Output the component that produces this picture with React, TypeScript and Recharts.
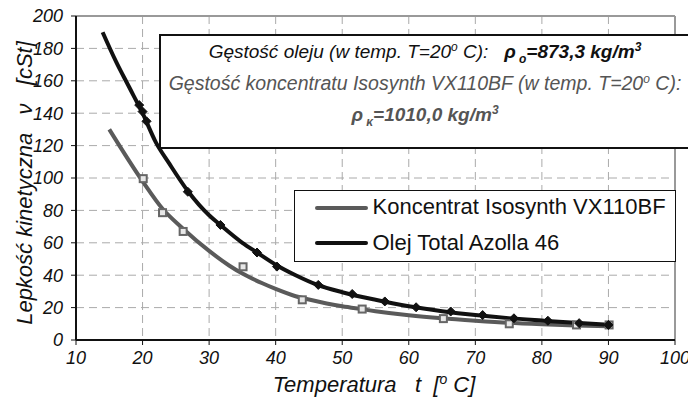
import React from 'react';
import { ComposedChart, Line, Scatter, XAxis, YAxis, CartesianGrid, ReferenceLine } from 'recharts';

// Temperature ticks and viscosity ticks
const xTicks = [10, 20, 30, 40, 50, 60, 70, 80, 90, 100];
const yTicks = [0, 20, 40, 60, 80, 100, 120, 140, 160, 180, 200];

// Olej Total Azolla 46 – fitted curve
const oilCurveT = [14, 16, 18, 20, 22, 24, 26.8, 30, 31.7, 35, 37.2, 40, 43, 46.3, 50, 55, 60, 65, 70, 75, 80, 85, 90];
const oilCurveV = [190, 172, 156, 140, 122, 109, 92, 77, 71, 60, 54, 46.5, 40, 34, 29.5, 24.8, 20.8, 17.8, 15.4, 13.5, 12, 10.6, 9.4];
// Olej Total Azolla 46 – measured points
const oilPointsT = [19.5, 20, 20.6, 26.8, 31.7, 37.2, 40.2, 46.4, 51.5, 56.4, 61.1, 66.3, 71.1, 75.8, 80.9, 85.6, 90];
const oilPointsV = [145, 141, 135, 91.5, 71, 54, 45.3, 34, 28.4, 23.8, 20.2, 17.6, 15.4, 13.4, 11.9, 10.4, 9.3];

// Koncentrat Isosynth VX110BF – fitted curve
const concCurveT = [15, 20, 23, 26, 30, 33, 35, 38, 40, 43, 45, 50, 53, 55, 60, 65, 70, 75, 80, 85, 90];
const concCurveV = [130, 98, 81, 69, 55, 46, 41, 35, 31.5, 27, 25, 20.8, 19, 17.8, 15.3, 13.4, 11.9, 10.6, 9.7, 9.0, 8.5];
// Koncentrat Isosynth VX110BF – measured points
const concPointsT = [20.1, 23, 26.1, 35.1, 44, 53, 65.2, 75.1, 85.2, 90.1];
const concPointsV = [99.6, 78.6, 67, 45.2, 24.8, 19.1, 13.2, 10, 9.3, 9.3];

const toRows = (xs: number[], ys: number[]) => xs.map((x, i) => ({ x, y: ys[i] }));

const oilCurve = toRows(oilCurveT, oilCurveV);
const oilPoints = toRows(oilPointsT, oilPointsV);
const concCurve = toRows(concCurveT, concCurveV);
const concPoints = toRows(concPointsT, concPointsV);

const FONT = '"Liberation Sans", Arial, sans-serif';

const Diamond = (p: any) => {
  const { cx, cy } = p;
  if (cx == null || cy == null) return null;
  const r = 4.5;
  return <polygon points={`${cx},${cy - r} ${cx + r},${cy} ${cx},${cy + r} ${cx - r},${cy}`} fill="#111" stroke="#111" strokeWidth={1} />;
};

const Square = (p: any) => {
  const { cx, cy } = p;
  if (cx == null || cy == null) return null;
  const s = 7;
  return <rect x={cx - s / 2} y={cy - s / 2} width={s} height={s} fill="#e8e8e8" stroke="#666" strokeWidth={2} />;
};

const supS = { fontSize: 12, verticalAlign: 'super', lineHeight: 0 } as React.CSSProperties;
const subS = { fontSize: 12, verticalAlign: 'sub', lineHeight: 0 } as React.CSSProperties;

export default function App() {
  return (
    <div style={{ position: 'absolute', left: 0, top: 0, width: 688, height: 408, overflow: 'hidden', background: '#fff', fontFamily: FONT }}>
      <ComposedChart width={688} height={408} margin={{ top: 16, right: 13, bottom: 0, left: 0 }}>
        <CartesianGrid strokeDasharray="8 5" stroke="#aaa" strokeWidth={1} />
        <XAxis
          type="number"
          dataKey="x"
          domain={[10, 100]}
          ticks={xTicks}
          height={68}
          tickSize={5}
          tickMargin={6}
          axisLine={{ stroke: '#111', strokeWidth: 2 }}
          tickLine={{ stroke: '#111', strokeWidth: 1 }}
          tick={{ fill: '#111', fontSize: 18, fontStyle: 'italic', fontFamily: FONT }}
          interval={0}
          allowDataOverflow
        />
        <YAxis
          type="number"
          dataKey="y"
          domain={[0, 200]}
          ticks={yTicks}
          width={76}
          tickSize={5}
          tickMargin={8}
          axisLine={{ stroke: '#111', strokeWidth: 2 }}
          tickLine={{ stroke: '#111', strokeWidth: 1 }}
          tick={{ fill: '#111', fontSize: 18, fontStyle: 'italic', fontFamily: FONT }}
          interval={0}
          allowDataOverflow
        />
        <ReferenceLine y={200} stroke="#999" strokeWidth={2} />
        <ReferenceLine x={100} stroke="#999" strokeWidth={2} />
        <Line data={concCurve} dataKey="y" type="monotone" stroke="#5a5a5a" strokeWidth={4} dot={false} activeDot={false} isAnimationActive={false} />
        <Scatter data={concPoints} dataKey="y" shape={Square} isAnimationActive={false} />
        <Line data={oilCurve} dataKey="y" type="monotone" stroke="#111" strokeWidth={4} dot={false} activeDot={false} isAnimationActive={false} />
        <Scatter data={oilPoints} dataKey="y" shape={Diamond} isAnimationActive={false} />
      </ComposedChart>

      {/* Y axis title */}
      <div style={{ position: 'absolute', left: 25, top: 183, transform: 'translate(-50%, -50%) rotate(-90deg)', whiteSpace: 'pre', fontSize: 22, fontStyle: 'italic', color: '#111', lineHeight: 1 }}>
        {'Lepkość kinetyczna   ν   [cSt]'}
      </div>

      {/* X axis title */}
      <div style={{ position: 'absolute', left: 374, top: 385, transform: 'translate(-50%, -50%)', whiteSpace: 'pre', fontSize: 22, fontStyle: 'italic', color: '#111', lineHeight: 1 }}>
        {'Temperatura   t  ['}<span style={{ ...supS, fontSize: 14 }}>o</span>{' C]'}
      </div>

      {/* Density info box */}
      <div style={{ position: 'absolute', left: 159, top: 34, width: 532, height: 115, boxSizing: 'border-box', border: '2px solid #111', background: '#fff', fontStyle: 'italic', fontSize: 19.5, textAlign: 'center', whiteSpace: 'pre' }}>
        <div style={{ position: 'absolute', left: 0, right: 0, top: 5, color: '#111', lineHeight: '22px', fontSize: 19 }}>
          {'Gęstość oleju (w temp. T=20'}<span style={supS}>o</span>{' C):   '}
          <b>ρ<span style={subS}> o</span>=873,3 kg/m<span style={supS}>3</span></b>
        </div>
        <div style={{ position: 'absolute', left: 0, right: 0, top: 36, color: '#555', lineHeight: '22px' }}>
          {'Gęstość koncentratu Isosynth VX110BF (w temp. T=20'}<span style={supS}>o</span>{' C):'}
        </div>
        <div style={{ position: 'absolute', left: 0, right: 0, top: 68, color: '#555', lineHeight: '22px', fontSize: 19 }}>
          <b>ρ<span style={subS}> κ</span>=1010,0 kg/m<span style={supS}>3</span></b>
        </div>
      </div>

      {/* Legend */}
      <div style={{ position: 'absolute', left: 294, top: 190, width: 382, height: 72, boxSizing: 'border-box', border: '1.5px solid #111', background: '#fff', fontSize: 22, color: '#111' }}>
        <div style={{ position: 'absolute', left: 19.5, top: 14.5, width: 53, height: 4, borderRadius: 2, background: '#5a5a5a' }} />
        <div style={{ position: 'absolute', left: 77.5, top: 4.2, lineHeight: '24px', whiteSpace: 'pre' }}>Koncentrat Isosynth VX110BF</div>
        <div style={{ position: 'absolute', left: 19.5, top: 49.5, width: 53, height: 4, borderRadius: 2, background: '#111' }} />
        <div style={{ position: 'absolute', left: 77.5, top: 40.2, lineHeight: '24px', whiteSpace: 'pre' }}>Olej Total Azolla 46</div>
      </div>
    </div>
  );
}
